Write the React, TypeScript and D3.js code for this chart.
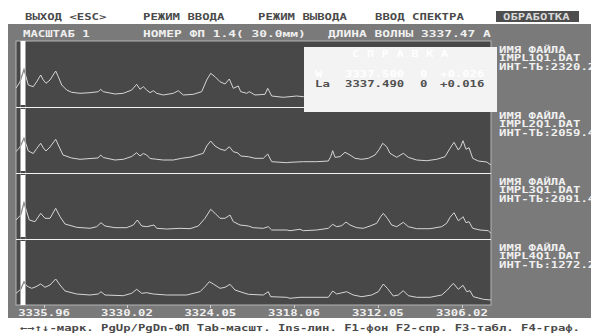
import React from "react";
import * as d3 from "d3";

// ---------- data ----------
const menuItems = ["ВЫХОД <ESC>", "РЕЖИМ ВВОДА", "РЕЖИМ ВЫВОДА", "ВВОД СПЕКТРА", "ОБРАБОТКА"];
const activeMenu = "ОБРАБОТКА";
const headerScale = "МАСШТАБ 1";
const headerFp = "НОМЕР ФП  1.4( 30.0мм)";
const headerWave = "ДЛИНА ВОЛНЫ 3337.47  А";
const cursorWavelength = 3337.47;
const wavelengthDomain = [3337.97, 3303.94];
const channelDomain = [0, 475];
const intensityDomain = [0, 66];
const tickWavelengths = [3335.96, 3330.02, 3324.05, 3318.06, 3312.05, 3306.02];
const fileNames = ["IMPL1Q1.DAT", "IMPL2Q1.DAT", "IMPL3Q1.DAT", "IMPL4Q1.DAT"];
const intensityLabels = ["2320.2", "2059.4", "2091.4", "1272.2"];
const refTitle = "С П Р А В К А";
const refElements = ["W", "La"];
const refWavelengths = ["3337.500", "3337.490"];
const refOrders = ["0", "0"];
const refShifts = ["+0.026", "+0.016"];
const statusLine = "←→↑↓-марк. PgUp/PgDn-ФП Tab-масшт. Ins-лин. F1-фон F2-спр. F3-табл. F4-граф.";

// [channel, intensity]
const spectrum1: [number, number][] = [[0,18.7],[4,25.3],[8,37.7],[10,30.3],[12.3,22],[17.3,20.3],[20.7,25.3],[24.7,32],[27.3,27],[30,23.7],[34,27],[39.7,36],[42.3,30.3],[45.7,22],[50.7,17],[55.7,14.7],[64,13.7],[74,14.3],[82.3,15.3],[84.7,17.7],[87.3,15.3],[99,13],[107.3,13.7],[115.7,17],[120.7,22.7],[124,17.7],[127.3,20.3],[130.7,17],[134,14.3],[137.3,16.3],[140.7,13.7],[147.3,12],[157.3,13.7],[162.3,16.3],[167.3,12],[177.3,12.7],[185.7,15.3],[190.7,27],[194.7,33.7],[199,30.3],[204,25.3],[209,23],[213.3,28],[217.3,18.7],[222.3,21],[224.7,15.3],[230.7,13.7],[233.3,15.3],[239,12],[249,12.7],[251.7,18.7],[255.7,11],[267.3,9.7],[280.7,11],[287.3,10.3],[300,11],[312,12],[314.7,17],[316.7,23],[319,16],[324,17],[329,21],[334,18],[340,15],[352,15],[359,18],[363,24],[366.7,30],[370.7,26],[374,20],[380.7,16],[387.3,20],[392.3,16],[401,13],[420,14],[429,16],[434,25],[438,31],[442,23],[445,26],[447,32],[450,24],[453,25],[457,15],[463,12],[471,11],[475,8]];
const spectrum2: [number, number][] = [[0,21.3],[4,26],[8,34.7],[10,29],[12.3,22],[17.3,19.5],[20.7,24.5],[24.7,29.7],[27.3,25],[30,22],[34,26],[39.7,33.7],[42.3,28],[47,18],[55.7,15],[64,13.7],[74,14.5],[82,15],[84.7,18],[87.3,15.5],[99,13],[107.3,13.7],[115.7,16.5],[120.7,20.3],[124,17],[127.3,19.5],[130.7,18],[134,14.5],[140.7,13.7],[147.3,13],[157.3,13],[165.7,14.7],[175,16],[187.3,19.7],[190.7,27],[194.7,32],[199,27],[204,24],[209,22.5],[213.3,26.3],[217.3,21.3],[222,20],[224.7,17],[232.3,16.3],[239,14.7],[247.3,14.7],[251.7,19],[255.7,11.3],[270.7,10.3],[274,10.7],[287.3,11.3],[300.7,11.3],[312.3,12],[314.7,16.3],[316.7,22.3],[319,15.7],[324,16.3],[329,20.7],[334,18],[339,14.7],[345.7,13.7],[352.3,14.7],[359,18],[363.3,23.7],[366.7,29.7],[370.7,26.3],[374,19.7],[380.7,15.7],[387.3,19.7],[392.3,15.7],[400.7,13],[410.7,12.3],[420.7,13.7],[429,16.3],[434,24.7],[438,30.7],[442.3,23],[444.7,26.3],[447,32.3],[450,23.7],[453,25.3],[456.7,14.7],[462.3,12],[470.7,11],[475,8]];
const spectrum3: [number, number][] = [[0,19],[4.7,24],[8,36.3],[10.7,27.3],[13.3,19],[19,17.3],[24.7,25.7],[29,20.7],[34,20.7],[39.7,30.7],[44,22.3],[49,15],[60.7,11.7],[74,10.7],[80.7,12.3],[85,16.3],[89,13],[99,11.3],[110.7,11.3],[117.3,14],[121.3,19],[125.7,13],[130.7,12.3],[138,14],[140.7,10.7],[150.7,10],[164,10.7],[174,10.3],[182.3,13],[189,20.7],[194.7,29.7],[199,25.7],[204,20.7],[209,20.7],[214,24],[217.3,17.3],[224,14],[232.3,13],[237.3,11.3],[247.3,10.7],[252.3,12.3],[255.7,9],[270.7,9],[274,8.3],[284,9.7],[287.3,8.3],[300.7,9],[312.3,10.7],[316.7,14.7],[320.7,12.3],[325.7,13.3],[330,17],[334,14],[340.7,11.3],[347.3,10.7],[354,13],[360.7,15.7],[364.7,22.3],[367.3,25.7],[371.3,20.7],[375.7,14],[380.7,12.3],[387.3,16.7],[392.3,12.3],[400.7,10.3],[414,10.3],[425.7,12.3],[430.7,15.7],[434,21.7],[438,26.3],[442.3,18.3],[444.7,20],[447,22.3],[450,16.3],[453,17.3],[456.7,10.7],[464,9],[472.3,8.3],[475,5.7]];
const spectrum4: [number, number][] = [[0,11.7],[4.7,15.7],[8,23.3],[10.7,19],[15.7,16.7],[20,18.3],[24.7,21],[29,17.7],[34,20],[39.7,26],[44,20],[49,14],[60.7,11],[74,10],[82.3,11],[85,13.3],[89,10],[107.3,9.3],[115.7,11.7],[120.7,15.7],[125.7,11.7],[130.7,12.3],[137.3,11],[150.7,10],[170.7,10],[184,13.3],[189,18.3],[193.3,23.3],[197.3,21],[204,16.7],[209,17.7],[214,20.7],[219,15],[224,13.3],[232.3,10.7],[247.3,10],[252.3,13.3],[254.7,8.3],[270.7,7.7],[274,6.7],[284,7.7],[312.3,7.7],[316.7,14],[320.7,11],[330.7,13.3],[337.3,10],[345.7,8.3],[355.7,10],[362.3,13.3],[367.3,21],[371.3,16.7],[377.3,9],[382.3,10],[387.3,14.3],[392.3,9.3],[400.7,7.7],[414,7.7],[425.7,10],[431.3,15],[437.3,21.7],[442.3,15.7],[447,19.7],[450.7,13.3],[454,14.3],[457.3,8.3],[467.3,5.7],[475,5]];
const spectra = [spectrum1, spectrum2, spectrum3, spectrum4];

// ---------- layout ----------
const W = 591, H = 334;
const FONT = "'DejaVu Sans Mono', 'Liberation Mono', monospace";
const CH = 7.4;
const PL = 16, PR = 491, PT = 41, PB = 305;
const panelH = (PB - PT) / 4;

const T = ({ x, y, text, fill, anchor = "start" }: { x: number; y: number; text: string; fill: string; anchor?: string }) => (
  <text x={x} y={y} fill={fill} fontFamily={FONT} fontSize={9} fontWeight="bold"
    textAnchor={anchor} textLength={text.length * CH} lengthAdjust="spacingAndGlyphs">{text}</text>
);

export default function App() {
  const x = d3.scaleLinear().domain(channelDomain).range([PL, PR]);
  const wl = d3.scaleLinear().domain(wavelengthDomain).range([PL, PR]);
  const cx = wl(cursorWavelength);
  const menuX = [25, 143, 258, 375, 503];
  const paths = spectra.map((s, i) => {
    const top = PT + i * panelH;
    const y = d3.scaleLinear().domain(intensityDomain).range([top + panelH, top]);
    return d3.line<[number, number]>().x(d => x(d[0])).y(d => y(d[1]))(s) as string;
  });
  return (
    <svg width={W} height={H} style={{ position: "absolute", left: 0, top: 0, display: "block" }}>
      <defs>
        <clipPath id="plot"><rect x={PL} y={PT} width={PR - PL} height={PB - PT} /></clipPath>
        <clipPath id="cur"><rect x={cx - 2.5} y={PT} width={5} height={PB - PT} /></clipPath>
      </defs>
      <rect x={0} y={0} width={W} height={H} fill="#ffffff" />
      {menuItems.map((m, i) => m === activeMenu ? (
        <g key={m}>
          <rect x={496} y={11} width={83} height={11} fill="#4e4e4e" />
          <T x={menuX[i]} y={20.3} text={m} fill="#d8d8d8" />
        </g>
      ) : <T key={m} x={menuX[i]} y={20.3} text={m} fill="#4a4a4a" />)}
      <rect x={8} y={24} width={W - 8} height={294} fill="#7a7a7a" />
      <T x={23} y={37.3} text={headerScale} fill="#f0f0f0" />
      <T x={143} y={37.3} text={headerFp} fill="#f0f0f0" />
      <T x={328} y={37.3} text={headerWave} fill="#f0f0f0" />
      <rect x={PL} y={PT} width={PR - PL} height={PB - PT} fill="#484848" stroke="#b4b4b4" strokeWidth={1} />
      <rect x={cx - 2.5} y={PT} width={5} height={PB - PT} fill="#ffffff" />
      {[1, 2, 3].map(k => (
        <rect key={k} x={cx - 2.5} y={PT + k * panelH - 2} width={5} height={4} fill="#484848" />
      ))}
      {[1, 2, 3].map(k => (
        <line key={k} x1={PL} x2={PR} y1={PT + k * panelH + 0.5} y2={PT + k * panelH + 0.5} stroke="#f2f2f2" strokeWidth={1} />
      ))}
      <g clipPath="url(#plot)">
        {paths.map((p, i) => <path key={i} d={p} fill="none" stroke="#d6d6d6" strokeWidth={1} />)}
      </g>
      <g clipPath="url(#cur)">
        {paths.map((p, i) => <path key={i} d={p} fill="none" stroke="#8a8a8a" strokeWidth={1.2} />)}
      </g>
      {tickWavelengths.map(t => (
        <g key={t}>
          <line x1={Math.round(wl(t)) + 0.5} x2={Math.round(wl(t)) + 0.5} y1={PB} y2={PB + 3} stroke="#d0d0d0" />
          <T x={wl(t)} y={315.8} text={t.toFixed(2)} fill="#f0f0f0" anchor="middle" />
        </g>
      ))}
      {fileNames.map((f, i) => {
        const top = PT + i * panelH;
        return (
          <g key={f}>
            <T x={499} y={top + 11.5} text="ИМЯ ФАЙЛА" fill="#f0f0f0" />
            <T x={499} y={top + 20.1} text={f} fill="#f0f0f0" />
            <T x={499} y={top + 28.7} text={"ИНТ-ТЬ:" + intensityLabels[i]} fill="#f0f0f0" />
          </g>
        );
      })}
      <rect x={304} y={47} width={193} height={65} fill="#f3f3f3" />
      <T x={352} y={57.3} text={refTitle} fill="#ffffff" />
      {refElements.map((e, i) => {
        const col = i === 0 ? "#ffffff" : "#505050";
        const yy = 77.3 + i * 10;
        return (
          <g key={e}>
            <T x={315} y={yy} text={e} fill={col} />
            <T x={345} y={yy} text={refWavelengths[i]} fill={col} />
            <T x={420} y={yy} text={refOrders[i]} fill={col} />
            <T x={440} y={yy} text={refShifts[i]} fill={col} />
          </g>
        );
      })}
      <text x={20} y={331} fill="#4a4a4a" fontFamily={FONT} fontSize={9} fontWeight="bold"
        textLength={560} lengthAdjust="spacingAndGlyphs">{statusLine}</text>
    </svg>
  );
}
